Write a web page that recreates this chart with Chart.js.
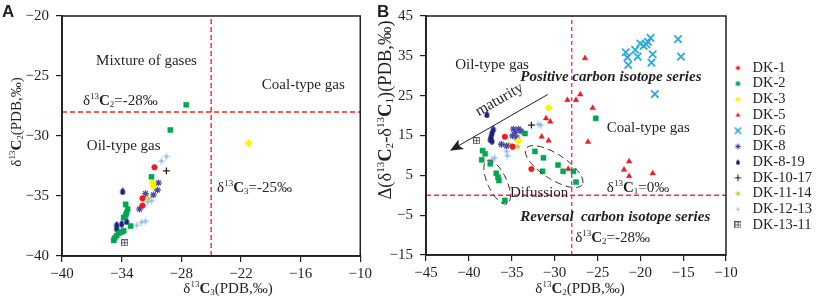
<!DOCTYPE html>
<html>
<head>
<meta charset="utf-8">
<title>Carbon isotope cross plots</title>
<script src="https://cdn.jsdelivr.net/npm/chart.js@4.4.1/dist/chart.umd.min.js"></script>
<style>
  html, body { margin: 0; padding: 0; background: #fff; overflow: hidden; }
  #wrap { position: relative; width: 816px; height: 298px; }
  canvas { position: absolute; top: 0; }
  #chartA { left: 0; }
  #chartB { left: 372px; }
</style>
</head>
<body>
<div id="wrap">
  <canvas id="chartA" width="375" height="298" style="width:375px;height:298px"></canvas>
  <canvas id="chartB" width="444" height="298" style="width:444px;height:298px"></canvas>
</div>
<script>
const SERIF = "'Liberation Serif', 'Times New Roman', serif";
const INK = '#231f20';

const wells = ['DK-1', 'DK-2', 'DK-3', 'DK-5', 'DK-6', 'DK-8', 'DK-8-19', 'DK-10-17', 'DK-11-14', 'DK-12-13', 'DK-13-11'];

// Panel A: [δ13C3, δ13C2] in ‰
const aDK1 = [[-30.7, -32.6], [-31.9, -35.2], [-31.9, -35.8]];
const aDK2 = [[-27.5, -27.4], [-29.1, -29.5], [-31.0, -33.4], [-33.6, -35.7], [-33.4, -36.1], [-33.5, -36.4],
  [-33.6, -36.6], [-33.8, -36.8], [-33.1, -37.5], [-33.8, -37.9], [-34.0, -38.0], [-34.3, -38.1],
  [-34.5, -38.3], [-34.7, -38.5], [-34.8, -38.7]];
const aDK3 = [[-30.9, -33.9], [-30.8, -34.2], [-21.2, -30.6]];
const aDK5 = [];
const aDK6 = [];
const aDK8 = [[-30.3, -33.9], [-30.4, -34.5], [-30.8, -34.9], [-31.6, -34.8], [-32.2, -36.1]];
const aDK819 = [[-33.9, -34.6], [-33.5, -37.1], [-34.0, -37.3], [-34.5, -37.4], [-34.5, -37.7]];
const aDK1017 = [[-29.5, -32.9]];
const aDK1114 = [[-31.3, -35.2], [-30.75, -34.05]];
const aDK1213 = [[-29.5, -31.7], [-30.0, -32.1], [-31.0, -35.4], [-31.4, -35.5], [-31.6, -37.1], [-32.0, -37.2], [-32.5, -37.45]];
const aDK1311 = [[-33.7, -38.9]];

// Panel B: [δ13C2, Δ(δ13C2-δ13C1)] in ‰
const bDK1 = [[-35.8, 14.7], [-34.9, 12.2], [-32.7, 6.6]];
const bDK2 = [[-33.45, 15.5], [-25.2, 19.3], [-38.4, 11.2], [-38.1, 10.4], [-38.5, 8.9], [-37.5, 7.9],
  [-36.8, 5.5], [-36.6, 4.5], [-36.5, 3.7], [-35.8, -1.3], [-32.3, 11.0], [-31.3, 9.4], [-31.4, 6.0],
  [-29.6, 7.6], [-29.0, 6.0], [-27.8, 6.0], [-27.5, 3.3]];
const bDK3 = [[-30.7, 21.9], [-34.2, 13.7]];
const bDK5 = [[-26.45, 34.4], [-28.5, 23.9], [-27.5, 23.9], [-27.0, 25.3], [-25.55, 21.9], [-31.0, 19.3],
  [-30.5, 18.5], [-31.5, 14.7], [-30.7, 13.7], [-26.1, 13.4], [-28.4, 6.6], [-21.3, 8.5], [-21.9, 6.4],
  [-21.3, 4.8], [-18.55, 5.5]];
const bDK6 = [[-21.7, 35.9], [-21.5, 34.6], [-21.4, 32.7], [-20.6, 36.5], [-20.3, 34.8], [-20.0, 38.1],
  [-19.6, 37.5], [-19.3, 37.9], [-19.1, 38.5], [-18.8, 39.5], [-18.55, 35.4], [-18.7, 33.3],
  [-15.6, 39.2], [-15.25, 34.8], [-18.3, 25.4]];
const bDK8 = [[-34.8, 16.6], [-34.2, 16.6], [-33.9, 16.1], [-34.6, 15.7], [-34.9, 14.9], [-34.4, 14.5], [-36.2, 12.8], [-35.6, 12.4]];
const bDK819 = [[-37.9, 20.3], [-37.15, 16.6], [-37.3, 15.7], [-37.4, 14.9], [-37.5, 14.1], [-37.3, 13.7]];
const bDK1017 = [[-32.7, 17.6]];
const bDK1114 = [[-35.3, 12.8], [-34.3, 12.2]];
const bDK1213 = [[-31.9, 17.8], [-31.6, 17.6], [-37.0, 9.4], [-37.3, 8.9], [-35.6, 11.0], [-35.5, 9.9]];
const bDK1311 = [[-39.1, 13.7]];

const seriesA = [aDK1, aDK2, aDK3, aDK5, aDK6, aDK8, aDK819, aDK1017, aDK1114, aDK1213, aDK1311];
const seriesB = [bDK1, bDK2, bDK3, bDK5, bDK6, bDK8, bDK819, bDK1017, bDK1114, bDK1213, bDK1311];

// axis ticks
const aXTicks = [-40, -34, -28, -22, -16, -10];
const aYTicks = [-40, -35, -30, -25, -20];
const bXTicks = [-45, -40, -35, -30, -25, -20, -15, -10];
const bYTicks = [-15, -5, 5, 15, 25, 35, 45];

// boundary values
const aCutC2 = -28, aCutC3 = -25;
const bCutC2 = -28, bCutDelta = 0;

// maturity arrow, [from, to] in panel B data units
const maturityArrow = [[-30.8, 25.3], [-42.2, 11.2]];

// ---------- marker shapes ----------
function pointIcon(style, color, r, lw, size) {
  const c = document.createElement('canvas');
  c.width = c.height = size;
  const g = c.getContext('2d');
  g.fillStyle = color; g.strokeStyle = color; g.lineWidth = lw;
  Chart.helpers.drawPoint(g, { pointStyle: style, radius: r, rotation: 0, borderWidth: lw }, size / 2, size / 2);
  return c;
}

function shapeIcon(kind, color, s) {
  const c = document.createElement('canvas');
  c.width = c.height = s;
  const g = c.getContext('2d');
  const m = s / 2;
  g.fillStyle = color; g.strokeStyle = color;
  g.beginPath();
  if (kind === 'drop') {
    const r = s * 0.32, cy = s * 0.64;
    g.moveTo(m, 0.3);
    g.quadraticCurveTo(m + r * 1.05, cy - r * 0.9, m + r, cy);
    g.arc(m, cy, r, 0, Math.PI);
    g.quadraticCurveTo(m - r * 1.05, cy - r * 0.9, m, 0.3);
    g.fill();
  } else if (kind === 'star5' || kind === 'spark') {
    const n = kind === 'star5' ? 5 : 4;
    const R = m - 0.2, ri = R * (kind === 'star5' ? 0.42 : 0.24);
    for (let k = 0; k < 2 * n; k++) {
      const ang = -Math.PI / 2 + k * Math.PI / n;
      const rr = k % 2 ? ri : R;
      g.lineTo(m + rr * Math.cos(ang), m + rr * Math.sin(ang));
    }
    g.closePath();
    g.fill();
  } else if (kind === 'boxplus') {
    g.lineWidth = 0.9;
    g.strokeRect(0.5, 0.5, s - 1, s - 1);
    g.moveTo(m, 0.5); g.lineTo(m, s - 0.5);
    g.moveTo(0.5, m); g.lineTo(s - 0.5, m);
    g.stroke();
  }
  return c;
}

const RED = '#ed1c24', GREEN = '#00a651', YELLOW = '#fff200', CYAN = '#27aae1';
const PURPLE = '#4a4aa6', NAVY = '#1c2483', LIME = '#b5d334', SKY = '#8db3e2', GREY = '#555555';

const marks = {
  'DK-1':     { pointStyle: 'circle',   color: RED,    radius: 2.8 },
  'DK-2':     { pointStyle: 'rect',     color: GREEN,  radius: 3.6 },
  'DK-3':     { pointStyle: 'rectRot',  color: YELLOW, radius: 3.8 },
  'DK-5':     { pointStyle: 'triangle', color: RED,    radius: 3.2 },
  'DK-6':     { pointStyle: 'crossRot', color: CYAN,   radius: 5.2, lw: 1.8 },
  'DK-8':     { pointStyle: 'star',     color: PURPLE, radius: 3.4, lw: 1.3 },
  'DK-8-19':  { pointStyle: shapeIcon('drop', NAVY, 8),    color: NAVY },
  'DK-10-17': { pointStyle: 'cross',    color: INK,    radius: 3.4, lw: 1.3 },
  'DK-11-14': { pointStyle: shapeIcon('star5', LIME, 8),   color: LIME },
  'DK-12-13': { pointStyle: shapeIcon('spark', SKY, 10),   color: SKY },
  'DK-13-11': { pointStyle: shapeIcon('boxplus', GREY, 7), color: GREY },
};

const legendIcons = {
  'DK-1':     pointIcon('circle', RED, 2.1, 0, 9),
  'DK-2':     pointIcon('rect', GREEN, 3.0, 0, 9),
  'DK-3':     pointIcon('rectRot', YELLOW, 3.0, 0, 9),
  'DK-5':     pointIcon('triangle', RED, 2.8, 0, 9),
  'DK-6':     pointIcon('crossRot', CYAN, 4.4, 1.5, 9),
  'DK-8':     pointIcon('star', PURPLE, 3.0, 1.0, 9),
  'DK-8-19':  shapeIcon('drop', NAVY, 6),
  'DK-10-17': pointIcon('cross', INK, 3.2, 1.2, 9),
  'DK-11-14': shapeIcon('star5', LIME, 7),
  'DK-12-13': shapeIcon('spark', SKY, 7),
  'DK-13-11': shapeIcon('boxplus', GREY, 7),
};

function wellDatasets(series) {
  return wells.map((w, i) => {
    const m = marks[w];
    return {
      label: w,
      data: series[i].map(([x, y]) => ({ x, y })),
      pointStyle: m.pointStyle,
      pointRadius: m.radius || 4,
      pointBackgroundColor: m.color,
      pointBorderColor: m.color,
      pointBorderWidth: m.lw || 0.5,
      order: 1,
    };
  });
}

function refLine(points, color, dash) {
  return {
    data: points.map(([x, y]) => ({ x, y })),
    showLine: true,
    borderColor: color,
    borderWidth: 1.4,
    borderDash: dash,
    pointRadius: 0,
    order: 10,
  };
}

// ---------- text helpers ----------
function fontFor(kind, size) {
  const small = kind === 'sup' || kind === 'sub';
  const s = small ? size * 0.6 : size;
  const w = kind === 'b' ? 'bold ' : kind === 'bi' ? 'italic bold ' : '';
  return w + s + 'px ' + SERIF;
}

function drawRich(ctx, parts, x, y, size, align, angle) {
  ctx.save();
  ctx.translate(x, y);
  if (angle) ctx.rotate(angle);
  let total = 0;
  for (const [t, k] of parts) { ctx.font = fontFor(k, size); total += ctx.measureText(t).width; }
  let cx = align === 'center' ? -total / 2 : align === 'right' ? -total : 0;
  ctx.textAlign = 'left';
  ctx.textBaseline = 'alphabetic';
  ctx.fillStyle = INK;
  for (const [t, k] of parts) {
    ctx.font = fontFor(k, size);
    const dy = k === 'sup' ? -size * 0.4 : k === 'sub' ? size * 0.13 : 0;
    ctx.fillText(t, cx, dy);
    cx += ctx.measureText(t).width;
  }
  ctx.restore();
}

const d13 = (n, tail) => [['δ'], ['13', 'sup'], ['C', 'b'], [n, 'sub'], [tail]];

const notesA = [
  { at: [-31.5, -24.05], parts: [['Mixture of gases']], align: 'center' },
  { at: [-19.9, -26.1], parts: [['Coal-type gas']] },
  { at: [-37.9, -27.4], parts: d13('2', '=-28‰') },
  { at: [-37.5, -31.2], parts: [['Oil-type gas']] },
  { at: [-24.4, -34.7], parts: d13('3', '=-25‰') },
];

const notesB = [
  { at: [-41.6, 31.8], parts: [['Oil-type gas']] },
  { at: [-34.0, 28.6], parts: [['Positive carbon isotope series', 'bi']] },
  { at: [-23.9, 15.9], parts: [['Coal-type gas']] },
  { at: [-23.9, 0.7], parts: d13('1', '=0‰') },
  { at: [-35.2, -0.5], parts: [['Difussion']] },
  { at: [-34.0, -6.5], parts: [['Reversal  carbon isotope series', 'bi']] },
  { at: [-27.6, -11.7], parts: d13('2', '=-28‰') },
];

function decorPlugin(cfg) {
  return {
    id: 'decor',
    afterDraw(chart) {
      const ctx = chart.ctx, a = chart.chartArea;
      const sx = chart.scales.x, sy = chart.scales.y;
      const at = (x, y) => [sx.getPixelForValue(x), sy.getPixelForValue(y)];

      ctx.save();
      ctx.strokeStyle = INK;
      ctx.lineWidth = 1.5;
      ctx.strokeRect(a.left, a.top, a.right - a.left, a.bottom - a.top);
      ctx.restore();

      for (const n of cfg.notes) {
        const [px, py] = at(n.at[0], n.at[1]);
        drawRich(ctx, n.parts, px, py, 15, n.align || 'left');
      }
      if (cfg.extra) cfg.extra(ctx, at);

      // panel letter and axis titles
      ctx.save();
      ctx.fillStyle = INK;
      ctx.font = "bold 17px 'Liberation Sans', Arial, sans-serif";
      ctx.textBaseline = 'alphabetic';
      ctx.fillText(cfg.letter, cfg.letterX, 17);
      ctx.restore();
      drawRich(ctx, cfg.xTitle, cfg.xTitleX, 293, 15, 'center');
      drawRich(ctx, cfg.yTitle, cfg.yTitleX, cfg.yTitleY, cfg.yTitleSize, 'center', -Math.PI / 2);
    }
  };
}

function fmt(v) { return v < 0 ? '\u2212' + Math.abs(v) : String(v); }

function axis(ticks, isX, size) {
  return {
    type: 'linear',
    min: Math.min(...ticks),
    max: Math.max(...ticks),
    afterBuildTicks: s => { s.ticks = ticks.map(v => ({ value: v })); },
    afterFit: s => { if (isX) s.height = size; else s.width = size; },
    ticks: { color: INK, font: { family: SERIF, size: 15 }, padding: isX ? 3 : 7, callback: fmt, maxRotation: 0, autoSkip: false },
    grid: { drawOnChartArea: false, tickLength: 6, color: INK, lineWidth: 1.2 },
    border: { color: INK, width: 1.8 },
  };
}

// ---------- panel A ----------
new Chart(document.getElementById('chartA'), {
  type: 'scatter',
  data: {
    datasets: [
      refLine([[-40, aCutC2], [-10, aCutC2]], '#ff1f1f', [5, 3]),
      refLine([[aCutC3, -40], [aCutC3, -20]], '#ff1f1f', [5, 3]),
      ...wellDatasets(seriesA),
    ],
  },
  options: {
    responsive: false,
    animation: false,
    events: [],
    layout: { padding: { top: 14, right: 13, bottom: 0, left: 0 } },
    plugins: { legend: { display: false }, tooltip: { enabled: false } },
    scales: {
      x: axis(aXTicks, true, 42),
      y: axis(aYTicks, false, 62),
    },
  },
  plugins: [decorPlugin({
    notes: notesA,
    letter: 'A', letterX: 2,
    xTitle: d13('3', '(PDB,‰)'), xTitleX: 228,
    yTitle: d13('2', '(PDB,‰)'), yTitleX: 21, yTitleY: 122, yTitleSize: 15,
  })],
});

// ---------- panel B ----------
function drawMaturity(ctx, at) {
  const [x0, y0] = at(...maturityArrow[0]);
  const [x1, y1] = at(...maturityArrow[1]);
  const ang = Math.atan2(y1 - y0, x1 - x0);
  ctx.save();
  ctx.strokeStyle = INK; ctx.fillStyle = INK; ctx.lineWidth = 1;
  ctx.beginPath();
  ctx.moveTo(x0, y0);
  ctx.lineTo(x1 - Math.cos(ang) * 8, y1 - Math.sin(ang) * 8);
  ctx.stroke();
  ctx.translate(x1, y1);
  ctx.rotate(ang);
  ctx.beginPath();
  ctx.moveTo(0, 0);
  ctx.lineTo(-13, -5.5);
  ctx.lineTo(-10, 0);
  ctx.lineTo(-13, 5.5);
  ctx.closePath();
  ctx.fill();
  ctx.restore();

  const [tx, ty] = at(-36.2, 23.1);
  drawRich(ctx, [['maturity']], tx, ty, 15.5, 'center', ang + Math.PI);

  // dashed envelopes around the diffusion-affected samples
  ctx.save();
  ctx.strokeStyle = '#333';
  ctx.lineWidth = 1;
  ctx.setLineDash([7, 4]);
  const e1 = at(-36.7, 3.3), e2 = at(-30.05, 7.2);
  ctx.beginPath();
  ctx.ellipse(e1[0], e1[1], 24, 9.5, 65 * Math.PI / 180, 0, Math.PI * 2);
  ctx.stroke();
  ctx.beginPath();
  ctx.ellipse(e2[0], e2[1], 33.5, 12.5, 33 * Math.PI / 180, 0, Math.PI * 2);
  ctx.stroke();
  ctx.restore();
}

new Chart(document.getElementById('chartB'), {
  type: 'scatter',
  data: {
    datasets: [
      refLine([[-45, bCutDelta], [-10, bCutDelta]], '#ff2a3a', [5, 3]),
      refLine([[bCutC2, -15], [bCutC2, 45]], '#f0348c', [4, 3]),
      ...wellDatasets(seriesB),
    ],
  },
  options: {
    responsive: false,
    animation: false,
    events: [],
    layout: { padding: { top: 14, right: 0, bottom: 0, left: 0 } },
    plugins: {
      tooltip: { enabled: false },
      legend: {
        display: true,
        position: 'right',
        align: 'start',
        maxWidth: 86.5,
        title: { display: true, text: '', font: { size: 10 }, padding: { top: 33.5, bottom: 0 } },
        labels: {
          usePointStyle: true,
          boxWidth: 14.5,
          boxHeight: 3.5,
          padding: 1.2,
          color: INK,
          font: { family: SERIF, size: 14.5 },
          generateLabels: chart => chart.data.datasets
            .map((ds, i) => ({
              text: ds.label, pointStyle: legendIcons[ds.label], datasetIndex: i,
              hidden: false, fontColor: INK, lineWidth: 0,
              fillStyle: 'transparent', strokeStyle: 'transparent',
            }))
            .filter(it => it.pointStyle),
        },
      },
    },
    scales: {
      x: axis(bXTicks, true, 43),
      y: axis(bYTicks, false, 54),
      yR: {
        type: 'linear', position: 'right', display: true,
        ticks: { display: false }, grid: { display: false }, border: { display: false },
        afterFit: s => { s.width = 3.5; },
      },
    },
  },
  plugins: [decorPlugin({
    notes: notesB,
    extra: drawMaturity,
    letter: 'B', letterX: 5,
    xTitle: d13('2', '(PDB,‰)'), xTitleX: 208,
    yTitle: [['Δ(δ'], ['13', 'sup'], ['C', 'b'], ['2', 'sub'], ['-δ'], ['13', 'sup'], ['C', 'b'], ['1', 'sub'], [')(PDB,‰)']],
    yTitleX: 19, yTitleY: 110, yTitleSize: 18.5,
  })],
});
</script>
</body>
</html>
